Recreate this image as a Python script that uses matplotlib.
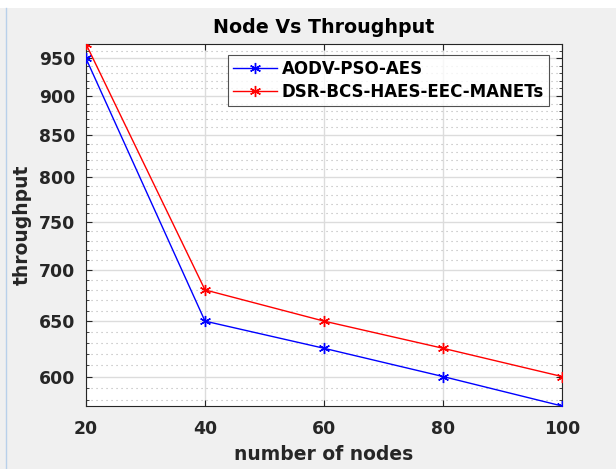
import matplotlib
matplotlib.use('Agg')
import matplotlib.pyplot as plt
from matplotlib.ticker import FixedLocator, NullFormatter, ScalarFormatter
from matplotlib.lines import Line2D
import numpy as np

# data
nodes = [20, 40, 60, 80, 100]
aodv_pso_aes = [950, 650, 625, 600, 575]
dsr_bcs = [970, 680, 650, 625, 600]
series_names = ['AODV-PSO-AES', 'DSR-BCS-HAES-EEC-MANETs']
y_major = [600, 650, 700, 750, 800, 850, 900, 950]

plt.rcParams['font.family'] = 'DejaVu Sans'
plt.rcParams['font.weight'] = 'bold'

fig = plt.figure(figsize=(6.16, 4.69), dpi=100, facecolor='#f0f0f0')
ax = fig.add_axes([86/616, 1 - 406/469, 476/616, 362/469])
ax.set_facecolor('white')

# window decoration of the screenshot
fig.add_artist(plt.Rectangle((0, 1 - 8/469), 1, 8/469, transform=fig.transFigure,
                             facecolor='white', edgecolor='none'))
fig.add_artist(Line2D([5.5/616, 5.5/616], [0, 1 - 8/469], transform=fig.transFigure,
                      color='#b8d0ea', lw=1))

asterisk = (6, 2, 0)
ax.plot(nodes, aodv_pso_aes, color='blue', lw=1, marker=asterisk, ms=8, mew=1,
        label=series_names[0], zorder=5)
ax.plot(nodes, dsr_bcs, color='red', lw=1, marker=asterisk, ms=8, mew=1,
        label=series_names[1], zorder=5)

ax.set_yscale('log')
ax.set_xlim(20, 100)
ax.set_ylim(575, 970)
ax.set_xticks([20, 40, 60, 80, 100])
ax.yaxis.set_major_locator(FixedLocator(y_major))
ax.yaxis.set_major_formatter(ScalarFormatter())
ax.yaxis.set_minor_locator(FixedLocator([v for v in range(580, 971, 10) if v not in y_major]))
ax.yaxis.set_minor_formatter(NullFormatter())

ax.grid(True, which='major', color='#dcdcdc', lw=1, ls='-')
ax.grid(True, which='minor', axis='y', color='#b4b4b4', lw=0.8, ls=(0, (1, 3.5)))
ax.set_axisbelow(True)

ax.tick_params(which='both', direction='in', right=True, top=True, colors='#262626',
               labelsize=12.4)
ax.tick_params(axis='x', pad=10)
ax.tick_params(axis='y', pad=8)
ax.tick_params(which='major', length=4)
ax.tick_params(which='minor', length=2)
for lab in ax.get_xticklabels() + ax.get_yticklabels():
    lab.set_fontweight('bold')
for sp in ax.spines.values():
    sp.set_color('#262626')
    sp.set_linewidth(0.8)

ax.set_title('Node Vs Throughput', fontsize=13.7, fontweight='bold', color='black', pad=8)
ax.set_xlabel('number of nodes', fontsize=13.5, fontweight='bold', color='#262626', labelpad=5)
ax.set_ylabel('throughput', fontsize=13.5, fontweight='bold', color='#262626', labelpad=5)

leg = ax.legend(loc='upper right', bbox_to_anchor=(549/616, 1 - 55/469),
                bbox_transform=fig.transFigure, fontsize=12, frameon=True, fancybox=False,
                handlelength=2.6, handletextpad=0.3, borderpad=0.3, labelspacing=0.3,
                borderaxespad=0)
leg.get_frame().set_edgecolor('#262626')
leg.get_frame().set_linewidth(0.8)
for t in leg.get_texts():
    t.set_fontweight('bold')

fig.savefig('out.png', dpi=100, facecolor=fig.get_facecolor())
